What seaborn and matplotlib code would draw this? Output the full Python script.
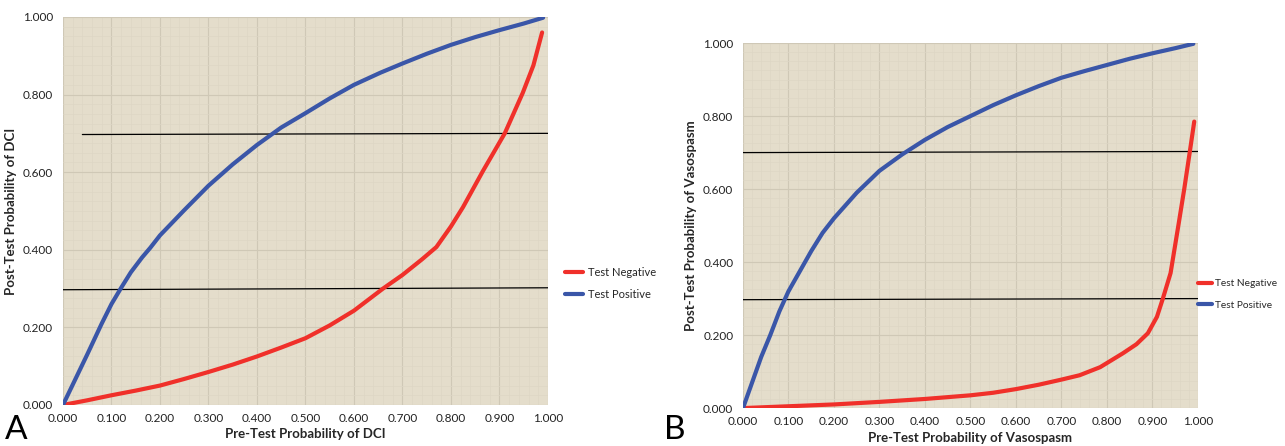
import matplotlib
matplotlib.use("Agg")
import matplotlib.pyplot as plt
import matplotlib.ticker as mticker
import numpy as np
import pandas as pd
import seaborn as sns

# panel A (DCI) values
a_neg_x = [0.0, 0.05, 0.10, 0.15, 0.20, 0.25, 0.30, 0.35, 0.40, 0.45, 0.50, 0.55, 0.60, 0.66,
           0.70, 0.74, 0.77, 0.80, 0.825, 0.866, 0.911, 0.948, 0.97, 0.988]
a_neg_y = [0.0, 0.012, 0.025, 0.037, 0.05, 0.067, 0.085, 0.104, 0.125, 0.148, 0.172, 0.205, 0.243, 0.30,
           0.335, 0.375, 0.407, 0.46, 0.51, 0.603, 0.70, 0.804, 0.875, 0.96]
a_pos_x = [0.0, 0.02, 0.05, 0.08, 0.10, 0.12, 0.14, 0.163, 0.18, 0.20, 0.25, 0.30, 0.35, 0.40, 0.45,
           0.50, 0.55, 0.60, 0.654, 0.70, 0.75, 0.80, 0.85, 0.90, 0.95, 0.99]
a_pos_y = [0.0, 0.052, 0.13, 0.21, 0.26, 0.302, 0.342, 0.38, 0.405, 0.437, 0.502, 0.565, 0.62, 0.67, 0.715,
           0.752, 0.79, 0.825, 0.856, 0.88, 0.905, 0.928, 0.948, 0.966, 0.983, 0.998]

# panel B (Vasospasm)
b_neg_x = [0.0, 0.10, 0.20, 0.30, 0.40, 0.50, 0.55, 0.60, 0.65, 0.70, 0.74, 0.785, 0.835, 0.865,
           0.89, 0.91, 0.923, 0.94, 0.958, 0.97, 0.982, 0.992]
b_neg_y = [0.0, 0.005, 0.01, 0.017, 0.025, 0.035, 0.042, 0.052, 0.064, 0.078, 0.09, 0.112, 0.15, 0.175,
           0.205, 0.25, 0.30, 0.37, 0.507, 0.60, 0.70, 0.785]
b_pos_x = [0.0, 0.02, 0.04, 0.06, 0.08, 0.10, 0.125, 0.15, 0.175, 0.20, 0.25, 0.30, 0.35, 0.40, 0.45,
           0.50, 0.55, 0.60, 0.65, 0.70, 0.75, 0.80, 0.85, 0.90, 0.95, 0.99]
b_pos_y = [0.0, 0.07, 0.14, 0.20, 0.265, 0.32, 0.375, 0.43, 0.48, 0.52, 0.59, 0.65, 0.695, 0.735, 0.77,
           0.80, 0.83, 0.857, 0.882, 0.905, 0.923, 0.94, 0.957, 0.972, 0.986, 0.998]

cut_lo = 0.30
cut_hi = 0.70

red = "#F0302A"
blue = "#3A56A8"
bg = "#E4DDCB"
grid_major = "#CFC8B6"
grid_minor = "#DDD6C5"

sns.set_theme(style="white")
plt.rcParams['font.family'] = ['Lato', 'DejaVu Sans']


def panel_df(neg_x, neg_y, pos_x, pos_y):
    d1 = pd.DataFrame({"x": neg_x, "y": neg_y, "Curve": "Test Negative"})
    d2 = pd.DataFrame({"x": pos_x, "y": pos_y, "Curve": "Test Positive"})
    return pd.concat([d1, d2], ignore_index=True)


def style_ax(ax, xlabel, ylabel):
    ax.set_facecolor(bg)
    ax.set_xlim(0, 1)
    ax.set_ylim(0, 1)
    ax.xaxis.set_major_locator(mticker.MultipleLocator(0.1))
    ax.xaxis.set_minor_locator(mticker.MultipleLocator(0.02))
    ax.yaxis.set_major_locator(mticker.MultipleLocator(0.2))
    ax.yaxis.set_minor_locator(mticker.MultipleLocator(0.025))
    ax.xaxis.set_major_formatter(mticker.FormatStrFormatter("%.3f"))
    ax.yaxis.set_major_formatter(mticker.FormatStrFormatter("%.3f"))
    ax.grid(which="major", color=grid_major, lw=0.8)
    ax.grid(which="minor", color=grid_minor, lw=0.5)
    ax.set_axisbelow(True)
    for s in ax.spines.values():
        s.set_visible(False)
    ax.tick_params(axis="both", which="major", labelsize=8.5, colors="#222222", length=0, pad=6)
    ax.tick_params(axis="y", length=3, color="#999999", pad=4)
    ax.tick_params(which="minor", length=0)
    ax.set_xlabel(xlabel, fontsize=9.5, fontweight="bold", labelpad=3)
    ax.set_ylabel(ylabel, fontsize=9.5, fontweight="bold", labelpad=4)


fig = plt.figure(figsize=(12.85, 4.46), dpi=100)
axA = fig.add_axes([0.049, 0.092, 0.3774, 0.870])
axB = fig.add_axes([0.5782, 0.085, 0.354, 0.8184])

pal = {"Test Negative": red, "Test Positive": blue}

dfA = panel_df(a_neg_x, a_neg_y, a_pos_x, a_pos_y)
sns.lineplot(data=dfA, x="x", y="y", hue="Curve", palette=pal, lw=3, ax=axA,
             sort=False, estimator=None, legend=False, zorder=3)
axA.plot([0.04, 1.0], [cut_hi - 0.003, cut_hi], color="black", lw=0.9, zorder=2)
axA.plot([0.0, 1.0], [cut_lo - 0.003, cut_lo + 0.002], color="black", lw=0.9, zorder=2)
style_ax(axA, "Pre-Test Probability of DCI", "Post-Test Probability of DCI")

dfB = panel_df(b_neg_x, b_neg_y, b_pos_x, b_pos_y)
sns.lineplot(data=dfB, x="x", y="y", hue="Curve", palette=pal, lw=3, ax=axB,
             sort=False, estimator=None, legend=False, zorder=3)
axB.plot([0.0, 1.0], [cut_hi, cut_hi + 0.003], color="black", lw=0.9, zorder=2)
axB.plot([0.0, 1.0], [cut_lo - 0.003, cut_lo], color="black", lw=0.9, zorder=2)
style_ax(axB, "Pre-Test Probability of Vasospasm", "Post-Test Probability of Vasospasm")

handles = [plt.Line2D([], [], color=red, lw=3), plt.Line2D([], [], color=blue, lw=3)]
labels = ["Test Negative", "Test Positive"]
fig.legend(handles, labels, loc="center left", bbox_to_anchor=(0.432, 0.365),
           frameon=False, fontsize=8, handlelength=1.6, handletextpad=0.5, labelspacing=1.0)
fig.legend(handles, labels, loc="center left", bbox_to_anchor=(0.931, 0.34),
           frameon=False, fontsize=7.3, handlelength=1.3, handletextpad=0.3,
           labelspacing=1.2, borderpad=0.1, borderaxespad=0.1)

fig.text(0.004, 0.015, "A", fontsize=24, color="black")
fig.text(0.517, 0.015, "B", fontsize=24, color="black")

fig.savefig("out.png", dpi=100, facecolor="white")
